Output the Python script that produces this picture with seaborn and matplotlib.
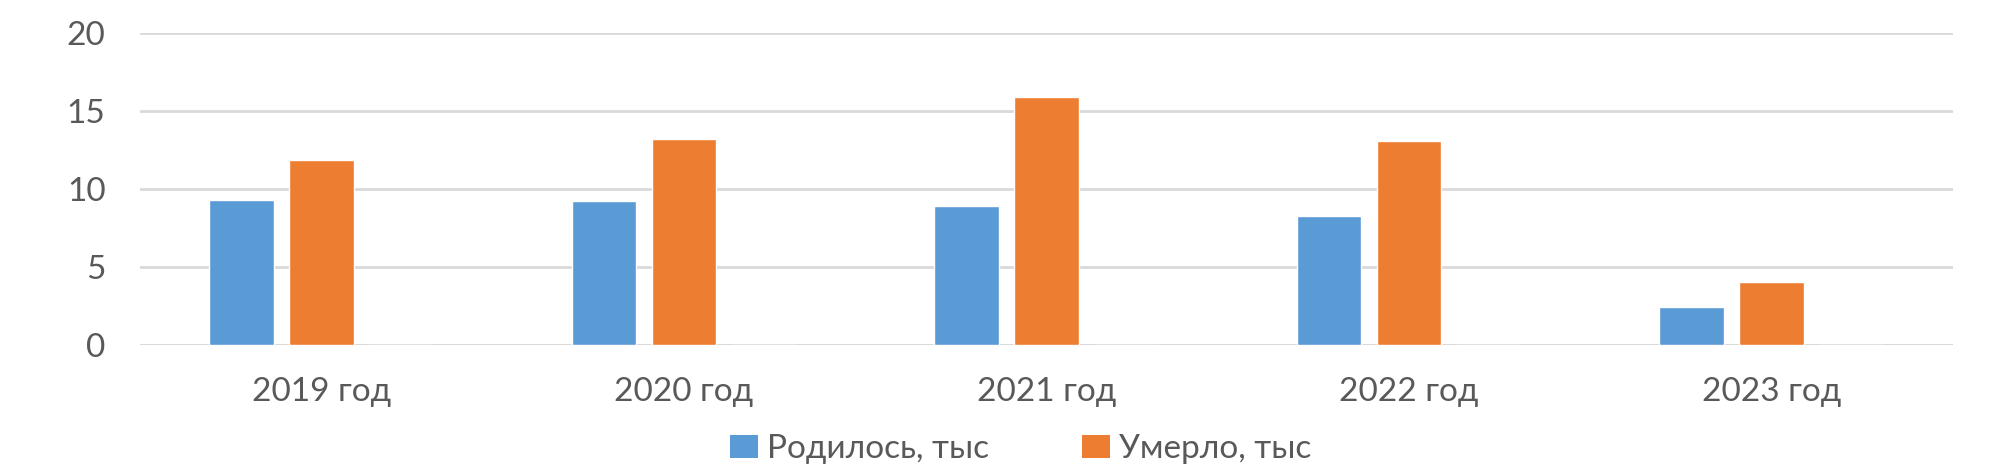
import numpy as np
import pandas as pd
import matplotlib
matplotlib.use("Agg")
import matplotlib.pyplot as plt
import seaborn as sns
from matplotlib.patches import Patch

years = ["2019 год", "2020 год", "2021 год", "2022 год", "2023 год"]
born = [9.3, 9.25, 8.9, 8.3, 2.45]
died = [11.9, 13.2, 15.9, 13.1, 4.05]
series = ["Родилось, тыс", "Умерло, тыс", " "]
colors = ["#5B9BD5", "#ED7D31", "#FFFFFF"]
yticks = [0, 5, 10, 15, 20]

# third (empty) series keeps the Excel-style offset of the bar pairs
rows = []
for y, b, d in zip(years, born, died):
    rows.append({"year": y, "series": series[0], "value": b})
    rows.append({"year": y, "series": series[1], "value": d})
    rows.append({"year": y, "series": series[2], "value": 0.0})
df = pd.DataFrame(rows)

sns.set_style("white")
plt.rcParams["font.family"] = ["Lato", "DejaVu Sans"]
text_color = "#595959"
grid_color = "#D9D9D9"

fig = plt.figure(figsize=(19.97, 4.68), dpi=100)
ax = fig.add_axes([0.0702, 0.2622, 0.9076, 0.6666])

sns.barplot(data=df, x="year", y="value", hue="series", hue_order=series,
            palette=colors, width=0.661, gap=0.195, legend=False,
            saturation=1, ax=ax)

ax.set_ylim(0, 20)
ax.set_xlim(-0.5, len(years) - 0.5)
ax.set_yticks(yticks)
ax.set_yticklabels([str(t) for t in yticks])
ax.yaxis.grid(True, color=grid_color, linewidth=2.0)
ax.set_axisbelow(True)
for s in ["top", "right", "left", "bottom"]:
    ax.spines[s].set_visible(False)
ax.axhline(0, color=grid_color, linewidth=2.0, zorder=0.5)
ax.tick_params(axis="both", length=0, labelsize=24, colors=text_color)
ax.tick_params(axis="y", pad=25)
ax.tick_params(axis="x", pad=23)
ax.set_xlabel("")
ax.set_ylabel("")

handles = [Patch(facecolor=colors[0], edgecolor="none"),
           Patch(facecolor=colors[1], edgecolor="none")]
fig.legend(handles, series[:2], loc="center", bbox_to_anchor=(0.511, 0.04),
           ncol=2, frameon=False, fontsize=24, labelcolor=text_color,
           handlelength=0.85, handleheight=0.65, handletextpad=0.25,
           columnspacing=2.8)

fig.savefig("out.png", dpi=100)
plt.close(fig)
